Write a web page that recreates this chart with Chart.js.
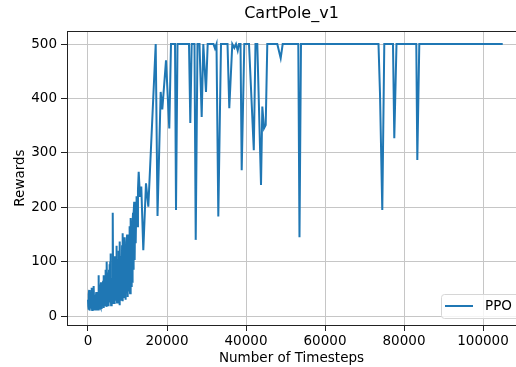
<!DOCTYPE html>
<html lang="en">

<head>
    <meta charset="UTF-8">
    <title>CartPole_v1</title>
    <script src="https://cdn.jsdelivr.net/npm/chart.js"></script>
    <style>
        body { margin: 0; background: #fff; }
    </style>
</head>

<body>
    <canvas id="rewardChart" width="516" height="367"></canvas>

    <script>
        // timesteps (x) and episode rewards (y)
        const timesteps = [
            0, 75, 150, 225, 300, 375, 450, 525, 600, 675, 750, 825, 900, 975, 1050, 1125, 1200,
            1275, 1350, 1425, 1500, 1575, 1650, 1725, 1800, 1875, 1950, 2025, 2100, 2175, 2250, 2325, 2400, 2475,
            2550, 2625, 2700, 2775, 2850, 2925, 3000, 3075, 3150, 3225, 3300, 3375, 3450, 3525, 3600, 3675,
            3750, 3825, 3900, 3975, 4050, 4125, 4200, 4275, 4350, 4425, 4500, 4575, 4650, 4725, 4800, 4875, 4950,
            5025, 5100, 5175, 5250, 5325, 5400, 5475, 5550, 5625, 5700, 5775,
            5850, 5925, 6000, 6075, 6150, 6225, 6300, 6375, 6450, 6525, 6600,
            6675, 6750, 6825, 6900, 6975, 7050, 7125, 7200, 7275, 7350, 7425, 7500,
            7575, 7650, 7725, 7800, 7875, 7950, 8025, 8100, 8175, 8250, 8325, 8400,
            8475, 8550, 8625, 8700, 8775, 8850, 8925, 9000, 9075, 9150, 9225, 9300, 9375,
            9450, 9525, 9600, 9675, 9750, 9825, 9900, 9975, 10050, 10125, 10200, 10275, 10350,
            10425, 10500, 10575, 10650, 10725, 10800, 10875, 10950, 11025, 11100, 11175, 11250, 11325,
            11400, 11475, 11550, 11625, 11700, 11775, 11850, 11925, 12000, 12075, 12150, 12225, 12300,
            12480, 12650, 12835, 13160, 13490, 14000, 14680, 15270,
            17140, 17600, 18400, 18810, 19750, 20580, 21010, 22030, 22280, 22660,
            25570, 25900, 26250, 26960, 27270, 27720, 28230, 28780, 29190, 29870,
            30300, 31770, 32150, 32530, 32990, 33670, 35320, 35770, 36530, 37040,
            37470, 37900, 38230, 38610, 38910, 39570, 40760, 41970, 42400, 42860,
            43800, 44130, 44560, 44990, 45390, 47920, 48780, 49290, 53240, 53540,
            53920, 73540, 73920, 74500, 75010, 77210, 77540, 78100, 83110, 83370,
            83870, 104990
        ];
        const rewards = [
            30, 18, 12, 40, 48, 15, 10, 25, 35, 20, 14, 45, 52, 17, 11, 22, 30,
            12, 13, 38, 55, 20, 12, 28, 38, 14, 10, 33, 44, 18, 15, 24, 28, 12,
            12, 60, 75, 20, 14, 40, 45, 18, 16, 55, 62, 22, 13, 48, 58, 25,
            18, 65, 75, 20, 15, 42, 50, 24, 20, 70, 85, 28, 17, 90, 100, 35, 22,
            60, 80, 30, 18, 85, 95, 35, 25, 100, 115, 40,
            20, 65, 70, 28, 24, 150, 190, 45, 30, 95, 110,
            40, 22, 80, 95, 35, 28, 110, 129, 45, 25, 90, 105,
            38, 30, 100, 120, 35, 20, 115, 137, 45, 28, 95, 110,
            50, 32, 130, 152, 45, 27, 110, 125, 50, 35, 125, 145, 48,
            30, 105, 120, 55, 42, 135, 150, 50, 35, 125, 140, 60, 45,
            140, 165, 60, 42, 160, 180, 70, 55, 135, 150, 80, 61, 170,
            190, 100, 85, 190, 210, 120, 103, 185, 200, 150, 134, 205, 220,
            165, 232, 265, 219, 238, 121, 244, 201,
            500, 184, 412, 380, 470, 345, 500, 500, 195, 500,
            500, 355, 500, 500, 140, 500, 500, 366, 500, 412,
            500, 500, 492, 500, 183, 500, 500, 382, 500, 493,
            500, 488, 500, 500, 268, 500, 500, 305, 500, 500,
            241, 385, 345, 351, 500, 500, 474, 500, 500, 145,
            500, 500, 409, 195, 500, 500, 327, 500, 500, 287,
            500, 500
        ];
        const xTicks = [0, 20000, 40000, 60000, 80000, 100000];
        const yTicks = [0, 100, 200, 300, 400, 500];

        if (timesteps.length !== rewards.length) console.error('length mismatch', timesteps.length, rewards.length);

        Chart.defaults.font.family = 'DejaVu Sans';
        Chart.defaults.color = '#000';

        const points = timesteps.map((t, i) => ({ x: t, y: rewards[i] }));

        // top spine + legend box inside the axes, like matplotlib
        const frameAndLegend = {
            id: 'frameAndLegend',
            afterDatasetsDraw(chart) {
                const { ctx, chartArea } = chart;
                ctx.save();
                ctx.strokeStyle = '#222';
                ctx.lineWidth = 1;
                ctx.beginPath();
                ctx.moveTo(chartArea.left, chartArea.top + 0.5);
                ctx.lineTo(chartArea.right, chartArea.top + 0.5);
                ctx.stroke();

                const ds = chart.data.datasets[0];
                const bx = 441.5, by = 294.5, bw = 90, bh = 24;
                ctx.fillStyle = 'rgba(255,255,255,0.8)';
                ctx.strokeStyle = '#d6d6d6';
                ctx.beginPath();
                ctx.roundRect(bx, by, bw, bh, 3);
                ctx.fill();
                ctx.stroke();

                ctx.strokeStyle = ds.borderColor;
                ctx.lineWidth = 2;
                ctx.beginPath();
                ctx.moveTo(445, 306);
                ctx.lineTo(473, 306);
                ctx.stroke();

                ctx.fillStyle = '#000';
                ctx.font = '13.5px DejaVu Sans';
                ctx.textBaseline = 'middle';
                ctx.fillText(ds.label, 485, 306.5);
                ctx.restore();
            }
        };

        const ctx = document.getElementById('rewardChart').getContext('2d');
        new Chart(ctx, {
            type: 'line',
            data: {
                datasets: [{
                    label: 'PPO',
                    data: points,
                    borderColor: '#1f77b4',
                    borderWidth: 2,
                    pointRadius: 0,
                    tension: 0
                }]
            },
            options: {
                responsive: false,
                animation: false,
                devicePixelRatio: 1,
                layout: { padding: 0 },
                plugins: {
                    legend: { display: false },
                    tooltip: { enabled: false },
                    title: {
                        display: true,
                        text: 'CartPole_v1',
                        fullSize: false,
                        font: { size: 16, weight: 'normal' },
                        color: '#000',
                        padding: { top: 4, bottom: 7.8 }
                    }
                },
                scales: {
                    x: {
                        type: 'linear',
                        min: -5316,
                        max: 108352,
                        afterBuildTicks: s => { s.ticks = xTicks.map(v => ({ value: v })); },
                        afterFit: s => { s.height = 42; },
                        ticks: { font: { size: 13.5 }, padding: 2, maxRotation: 0, autoSkip: false, callback: v => String(v) },
                        grid: { color: '#c6c6c6', lineWidth: 1, tickColor: '#222', tickLength: 6 },
                        border: { color: '#222', width: 1 },
                        title: {
                            display: true,
                            text: 'Number of Timesteps',
                            font: { size: 13.5 },
                            padding: { top: 0, bottom: 0 }
                        }
                    },
                    y: {
                        min: -16.5,
                        max: 524,
                        afterBuildTicks: s => { s.ticks = yTicks.map(v => ({ value: v })); },
                        afterFit: s => { s.width = 67; },
                        ticks: { font: { size: 13.5 }, padding: 4, callback: v => String(v) },
                        grid: { color: '#c6c6c6', lineWidth: 1, tickColor: '#222', tickLength: 6 },
                        border: { color: '#222', width: 1 },
                        title: {
                            display: true,
                            text: 'Rewards',
                            font: { size: 13.5 },
                            padding: { top: 12, bottom: 0 }
                        }
                    }
                }
            },
            plugins: [frameAndLegend]
        });
    </script>
</body>

</html>
